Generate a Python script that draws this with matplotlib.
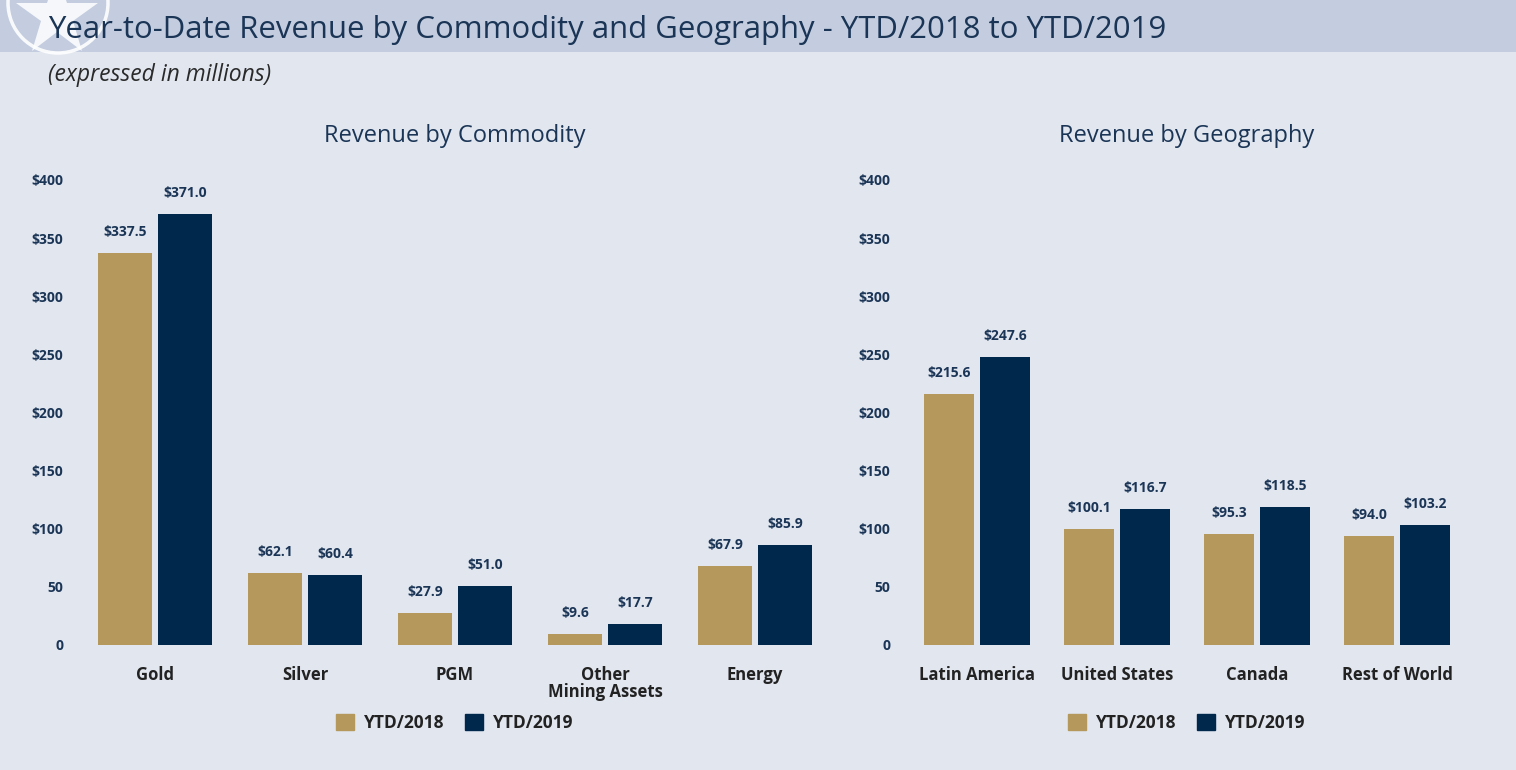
import matplotlib.pyplot as plt
import matplotlib.patches as mpatches
from matplotlib.lines import Line2D
import numpy as np

commodities = ['Gold', 'Silver', 'PGM', 'Other\nMining Assets', 'Energy']
comm_2018 = [337.5, 62.1, 27.9, 9.6, 67.9]
comm_2019 = [371.0, 60.4, 51.0, 17.7, 85.9]

regions = ['Latin America', 'United States', 'Canada', 'Rest of World']
geo_2018 = [215.6, 100.1, 95.3, 94.0]
geo_2019 = [247.6, 116.7, 118.5, 103.2]

yticks = [0, 50, 100, 150, 200, 250, 300, 350, 400]
ytick_labels = ['0', '50', '$100', '$150', '$200', '$250', '$300', '$350', '$400']

bg = '#e1e6ef'
band = '#c3cddf'
gold = '#b5995c'
navy = '#00284c'
txt = '#1b3556'

plt.rcParams['font.family'] = ['Open Sans', 'DejaVu Sans']

fig = plt.figure(figsize=(15.16, 7.7), dpi=100, facecolor=bg)

# header band with logo
fig.patches.append(mpatches.Rectangle((0, 1 - 52 / 770), 1, 52 / 770, transform=fig.transFigure,
                                      facecolor=band, edgecolor='none', zorder=0))
fig.patches.append(mpatches.Ellipse((58 / 1516, 1 - 3 / 770), 100 / 1516, 100 / 770,
                                    transform=fig.transFigure, facecolor='none',
                                    edgecolor='white', lw=2.5, alpha=0.9, zorder=1))
fig.lines.append(Line2D([57 / 1516], [1 - 16 / 770], transform=fig.transFigure, marker='*',
                        markersize=62, color='white', alpha=0.85, markeredgewidth=0, zorder=1))
fig.text(48 / 1516, 1 - 30 / 770, 'Year-to-Date Revenue by Commodity and Geography - YTD/2018 to YTD/2019',
         fontsize=22.4, color=txt, va='center', ha='left', zorder=2)
fig.text(48 / 1516, 1 - 75 / 770, '(expressed in millions)', fontsize=16.5, style='italic',
         color='#2a2a2a', va='center', ha='left')


def draw_panel(ax, cats, v18, v19, title, width):
    x = np.arange(len(cats))
    off = width / 2 + 0.02
    b1 = ax.bar(x - off, v18, width, color=gold)
    b2 = ax.bar(x + off, v19, width, color=navy)
    for bars, vals in ((b1, v18), (b2, v19)):
        for b, v in zip(bars, vals):
            ax.text(b.get_x() + b.get_width() / 2, v + 12, f'${v:.1f}', ha='center', va='bottom',
                    fontsize=10, fontweight='bold', color=txt)
    ax.set_facecolor(bg)
    ax.set_xlim(-0.5, len(cats) - 0.5)
    ax.set_ylim(0, 400)
    ax.set_yticks(yticks)
    ax.set_yticklabels(ytick_labels, fontsize=10, fontweight='bold', color=txt)
    ax.set_xticks(x)
    ax.set_xticklabels(cats, fontsize=12, fontweight='bold', color='#222222', linespacing=0.95)
    ax.tick_params(length=0)
    ax.tick_params(axis='x', pad=15)
    ax.tick_params(axis='y', pad=12)
    for s in ax.spines.values():
        s.set_visible(False)
    ax.set_title(title, fontsize=17, color=txt, pad=27)
    handles = [mpatches.Patch(color=gold, label='YTD/2018'), mpatches.Patch(color=navy, label='YTD/2019')]
    ax.legend(handles=handles, loc='upper center', bbox_to_anchor=(0.5, -0.115), ncol=2, frameon=False,
              handlelength=1.0, handleheight=1.0, handletextpad=0.6, columnspacing=1.2,
              prop={'size': 12.5, 'weight': 'bold'}, labelcolor='#222222')


bottom = 125 / 770
height = 465 / 770
ax1 = fig.add_axes([80 / 1516, bottom, 750 / 1516, height])
ax2 = fig.add_axes([907 / 1516, bottom, 560 / 1516, height])
draw_panel(ax1, commodities, comm_2018, comm_2019, 'Revenue by Commodity', 0.36)
draw_panel(ax2, regions, geo_2018, geo_2019, 'Revenue by Geography', 0.36)

fig.savefig('out.png', dpi=100, facecolor=bg)
